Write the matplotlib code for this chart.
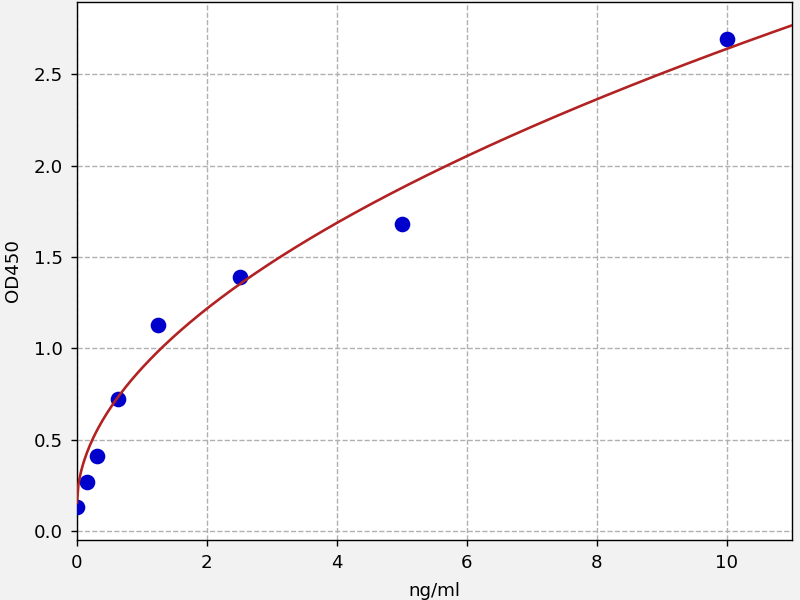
import numpy as np
import matplotlib
matplotlib.use("Agg")
import matplotlib.pyplot as plt

plt.rcParams["font.size"] = 10.5

# Standard points
conc = [0.0, 0.156, 0.312, 0.625, 1.25, 2.5, 5.0, 10.0]
od450 = [0.130, 0.268, 0.408, 0.721, 1.127, 1.388, 1.680, 2.695]

# Fitted curve parameters (y = bottom + scale * x**exponent)
fit_bottom = 0.155
fit_scale = 0.737
fit_exponent = 0.528

xticks = [0, 2, 4, 6, 8, 10]
yticks = [0.0, 0.5, 1.0, 1.5, 2.0, 2.5]

fig = plt.figure(figsize=(6.4, 4.8), dpi=125, facecolor="#f2f2f2")
ax = fig.add_axes([0.09625, 0.1, 0.89375, 0.8967])
ax.set_facecolor("white")

xs = np.linspace(0, 11, 500)
ys = fit_bottom + fit_scale * xs ** fit_exponent

ax.plot(conc, od450, "o", color="#0000cc", markersize=8, zorder=3)
ax.plot(xs, ys, color="#b22222", linewidth=1.5, zorder=4)

ax.set_xlim(0, 11)
ax.set_ylim(-0.05, 2.897)
ax.set_xticks(xticks)
ax.set_yticks(yticks)
ax.set_yticklabels([f"{v:.1f}" for v in yticks])
ax.tick_params(pad=4.5)
ax.grid(True, linestyle="--", color="#b0b0b0", linewidth=0.8)
ax.set_axisbelow(True)
ax.set_xlabel("ng/ml", labelpad=6)
ax.set_ylabel("OD450", labelpad=7)

fig.savefig("out.png", dpi=125, facecolor=fig.get_facecolor())
